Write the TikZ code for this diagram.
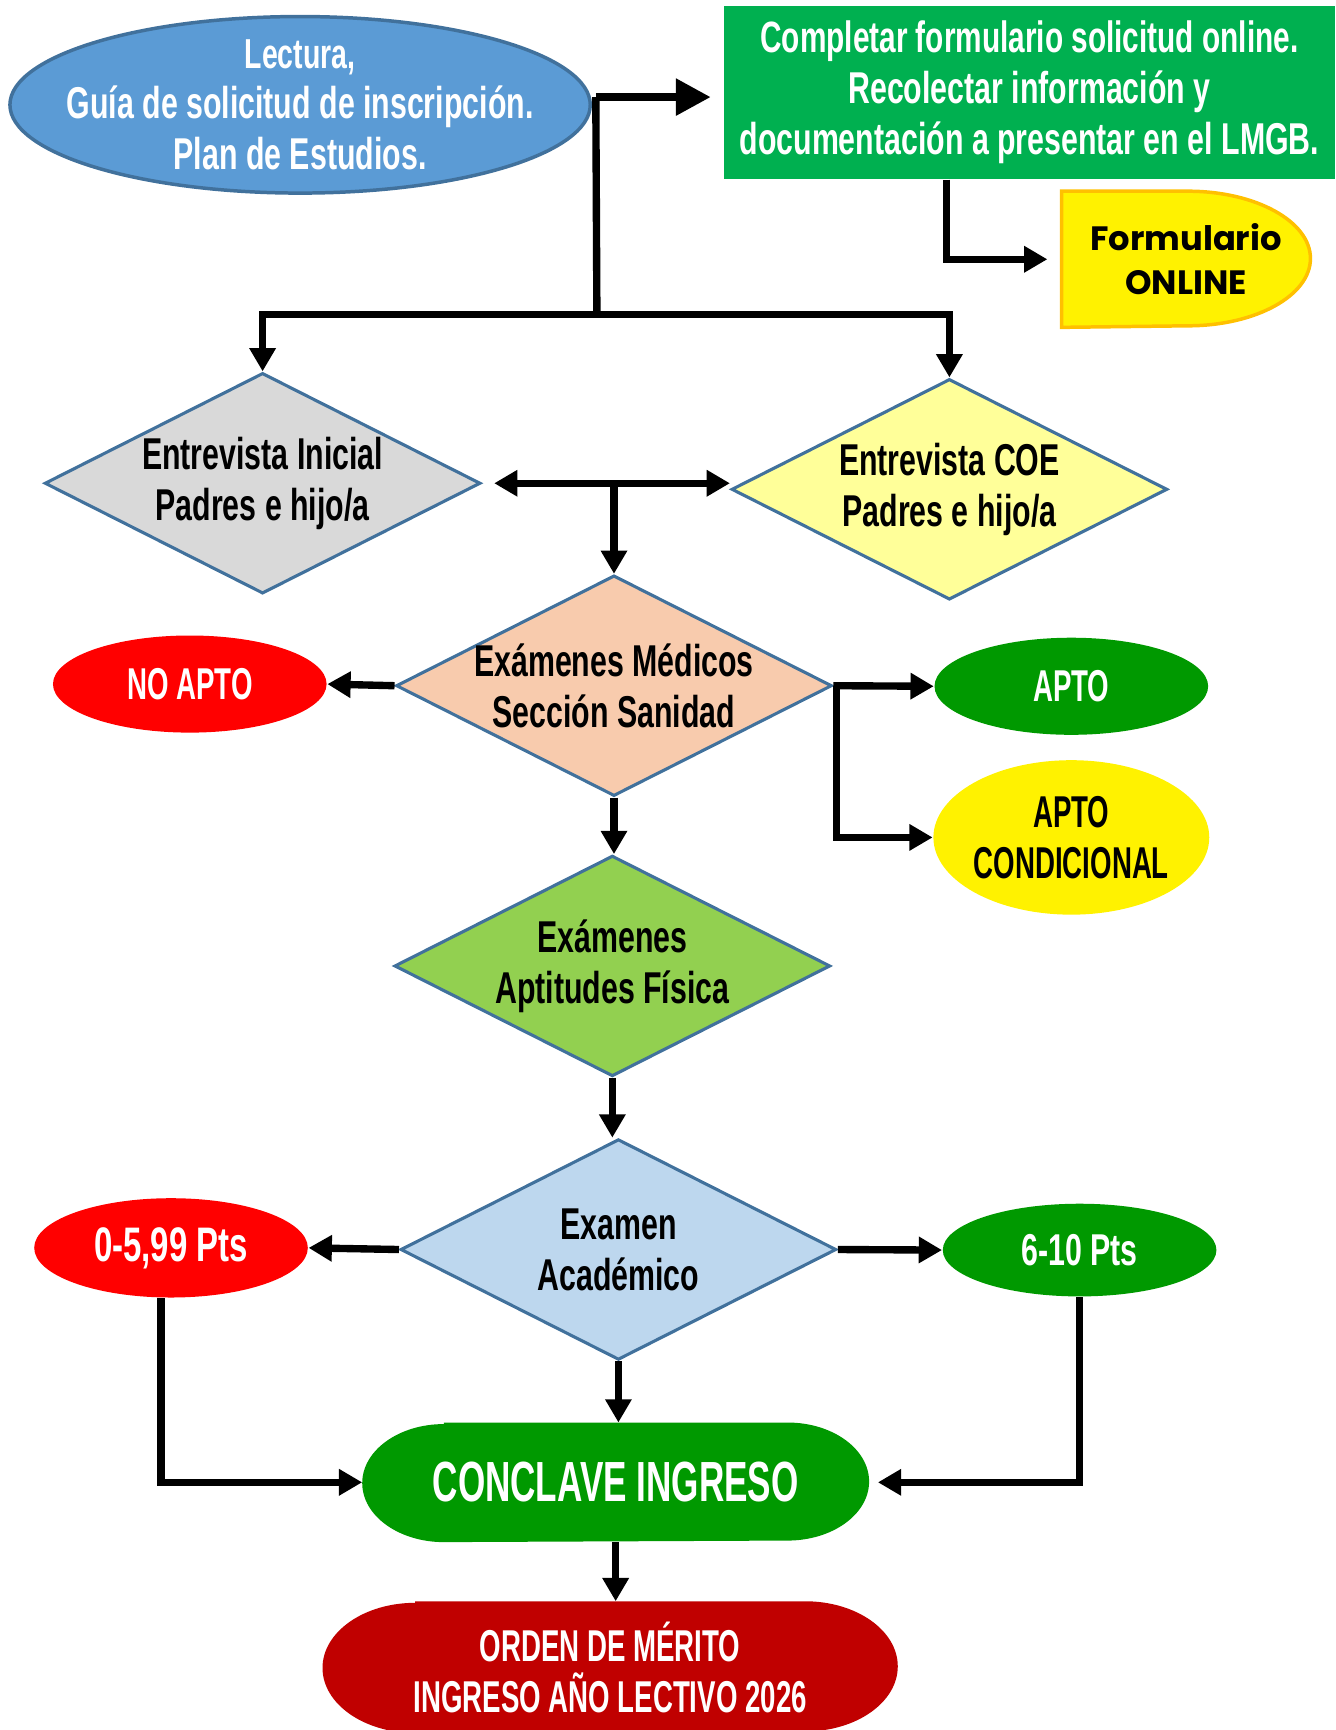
\documentclass[tikz,border=0pt]{standalone}
\usepackage{fontspec}
\setmainfont{Liberation Sans}[FakeStretch=0.68]
\newfontfamily\versalfont{Liberation Sans}[FakeStretch=0.62]
\newfontfamily\gothicfont{Poppins}
\usepackage{tikz}
\usetikzlibrary{arrows.meta}
\usetikzlibrary{shapes.geometric, backgrounds}
\definecolor{blauoval}{HTML}{5B9BD5}
\definecolor{blaurand}{HTML}{41719C}
\definecolor{formgruen}{HTML}{00B050}
\definecolor{aptogruen}{HTML}{009900}
\definecolor{grau}{HTML}{D9D9D9}
\definecolor{blassgelb}{HTML}{FFFF99}
\definecolor{lachs}{HTML}{F8CBAD}
\definecolor{fisgruen}{HTML}{92D050}
\definecolor{hellblau}{HTML}{BDD7EE}
\definecolor{merito}{HTML}{C00000}
\definecolor{goldrand}{HTML}{FFC000}

\tikzset{
    txt/.style={font=\bfseries\fontsize{11.5}{13.1}\selectfont, align=center, inner sep=0pt},
    versal/.style={font=\versalfont\bfseries\fontsize{11.5}{13.1}\selectfont},
    raute/.style={diamond, aspect=2, draw=blaurand, line width=0.8pt, txt, inner sep=-0.1cm, minimum width=3.95cm, minimum height=2cm},
    oval/.style={ellipse, txt, text=white, minimum width=2.48cm, minimum height=0.88cm},
    fluss/.style={line width=1.9pt, -{Triangle[length=6pt,width=6.5pt]}},
    dickfluss/.style={line width=2.2pt, -{Triangle[length=9pt,width=9pt]}},
    linie/.style={line width=1.9pt}
}

\begin{document}
\begin{tikzpicture}
\useasboundingbox (0,0) rectangle (12.10,-15.68);
% Obere Reihe
    \node[ellipse, fill=blauoval, draw=blaurand, line width=0.9pt, txt, inner xsep=-0.3cm, inner ysep=-0.15cm, text=white, minimum width=5.26cm, minimum height=1.6cm] (lectura) at (2.72,-0.95)
        {\fontsize{10.8}{13.3}\selectfont Lectura,\\Guía de solicitud de inscripción.\\Plan de Estudios.};
    \node[rectangle, fill=formgruen, txt, text=white, minimum width=5.54cm, minimum height=1.57cm] (completar) at (9.33,-0.835)
        {\fontsize{11.3}{13.1}\selectfont Completar formulario solicitud online.\\Recolectar información y\\documentación a presentar en el LMGB.};
    \node[rectangle, align=center, inner sep=0pt, minimum width=2.24cm, minimum height=1.22cm, font=\gothicfont\bfseries\fontsize{8.7}{11.4}\selectfont] (online) at (10.75,-2.35)
        {Formulario\\ONLINE};
    \coordinate (abzweig) at (5.40,-0.88);
    \coordinate (balken) at (5.41,-2.85);
% Rauten und Ovale
    \node[raute, fill=grau] (inicial) at (2.38,-4.38) {Entrevista Inicial\\Padres e hijo/a};
    \node[raute, fill=blassgelb] (coe) at (8.605,-4.435) {Entrevista COE\\Padres e hijo/a};
    \node[raute, fill=lachs] (medicos) at (5.565,-6.215) {Exámenes Médicos\\Sección Sanidad};
    \node[oval, versal, fill=red] (noapto) at (1.72,-6.20) {NO APTO};
    \node[oval, versal, fill=aptogruen] (apto) at (9.71,-6.22) {APTO};
    \node[oval, versal, fill=yellow, text=black, minimum height=1.4cm] (condicional) at (9.71,-7.59) {APTO\\CONDICIONAL};
    \node[raute, fill=fisgruen] (fisica) at (5.55,-8.755) {Exámenes\\Aptitudes Física};
    \node[raute, fill=hellblau] (academico) at (5.605,-11.325) {Examen\\Académico};
    \node[oval, fill=red, minimum height=0.9cm, font=\bfseries\fontsize{12.5}{14}\selectfont] (bajo) at (1.55,-11.31) {0-5,99 Pts};
    \node[oval, fill=aptogruen, minimum height=0.84cm] (alto) at (9.785,-11.33) {6-10 Pts};
    \node[rectangle, txt, text=white, font=\versalfont\bfseries\fontsize{14.6}{16}\selectfont, minimum width=4.58cm, minimum height=1.07cm] (conclave) at (5.58,-13.435) {CONCLAVE INGRESO};
    \node[rectangle, txt, versal, text=white, minimum width=5.2cm, minimum height=1.18cm] (orden) at (5.53,-15.11) {ORDEN DE MÉRITO\\INGRESO AÑO LECTIVO 2026};
% Flaechen hinter den Texten
    \begin{scope}[on background layer]
        \filldraw[fill=yellow, draw=goldrand, line width=0.9pt] (online.south west) -- (online.north west) -- ([xshift=-1.11cm]online.north east)
            arc[start angle=90, end angle=-90, x radius=1.11cm, y radius=0.61cm] -- cycle;
        \fill[aptogruen] ([xshift=0.74cm]conclave.north west) -- ([xshift=-0.74cm]conclave.north east)
            arc[start angle=90, end angle=-90, x radius=0.74cm, y radius=0.535cm] -- ([xshift=0.74cm]conclave.south west)
            arc[start angle=270, end angle=90, x radius=0.74cm, y radius=0.535cm] -- cycle;
        \fill[merito] ([xshift=0.84cm]orden.north west) -- ([xshift=-0.84cm]orden.north east)
            arc[start angle=90, end angle=-90, x radius=0.84cm, y radius=0.59cm] -- ([xshift=0.84cm]orden.south west)
            arc[start angle=270, end angle=90, x radius=0.84cm, y radius=0.59cm] -- cycle;
    \end{scope}
% Pfeile
    \draw[dickfluss, shorten >=0.11cm] (abzweig) -- (abzweig -| completar.west);
    \draw[linie] (abzweig) -- (balken);
    \draw[fluss] (balken) -| (inicial.north);
    \draw[fluss] (balken) -| (coe.north);
    \draw[fluss, shorten >=0.13cm] ([xshift=-0.75cm]completar.south) |- (online.west);
    \draw[line width=1.9pt, {Triangle[length=6pt,width=6.5pt]}-{Triangle[length=6pt,width=6.5pt]}, shorten <=0.11cm] (inicial.east) -- (inicial.east -| coe.west);
    \draw[fluss] (medicos.north |- inicial.east) -- (medicos.north);
    \draw[fluss] (medicos.west) -- (noapto.east);
    \draw[fluss] (medicos.east) -- (apto.west);
    \draw[fluss] ([xshift=0.03cm]medicos.east) |- (condicional.west);
    \draw[fluss] (medicos.south) -- (medicos.south |- fisica.north);
    \draw[fluss] (fisica.south) -- (fisica.south |- academico.north);
    \draw[fluss] (academico.west) -- (bajo.east);
    \draw[fluss] (academico.east) -- (alto.west);
    \draw[fluss] (academico.south) -- (academico.south |- conclave.north);
    \draw[fluss] ([xshift=-0.09cm]bajo.south) |- (conclave.west);
    \draw[fluss, shorten >=0.08cm] (alto.south) |- (conclave.east);
    \draw[fluss] (conclave.south) -- (conclave.south |- orden.north);
\end{tikzpicture}
\end{document}
